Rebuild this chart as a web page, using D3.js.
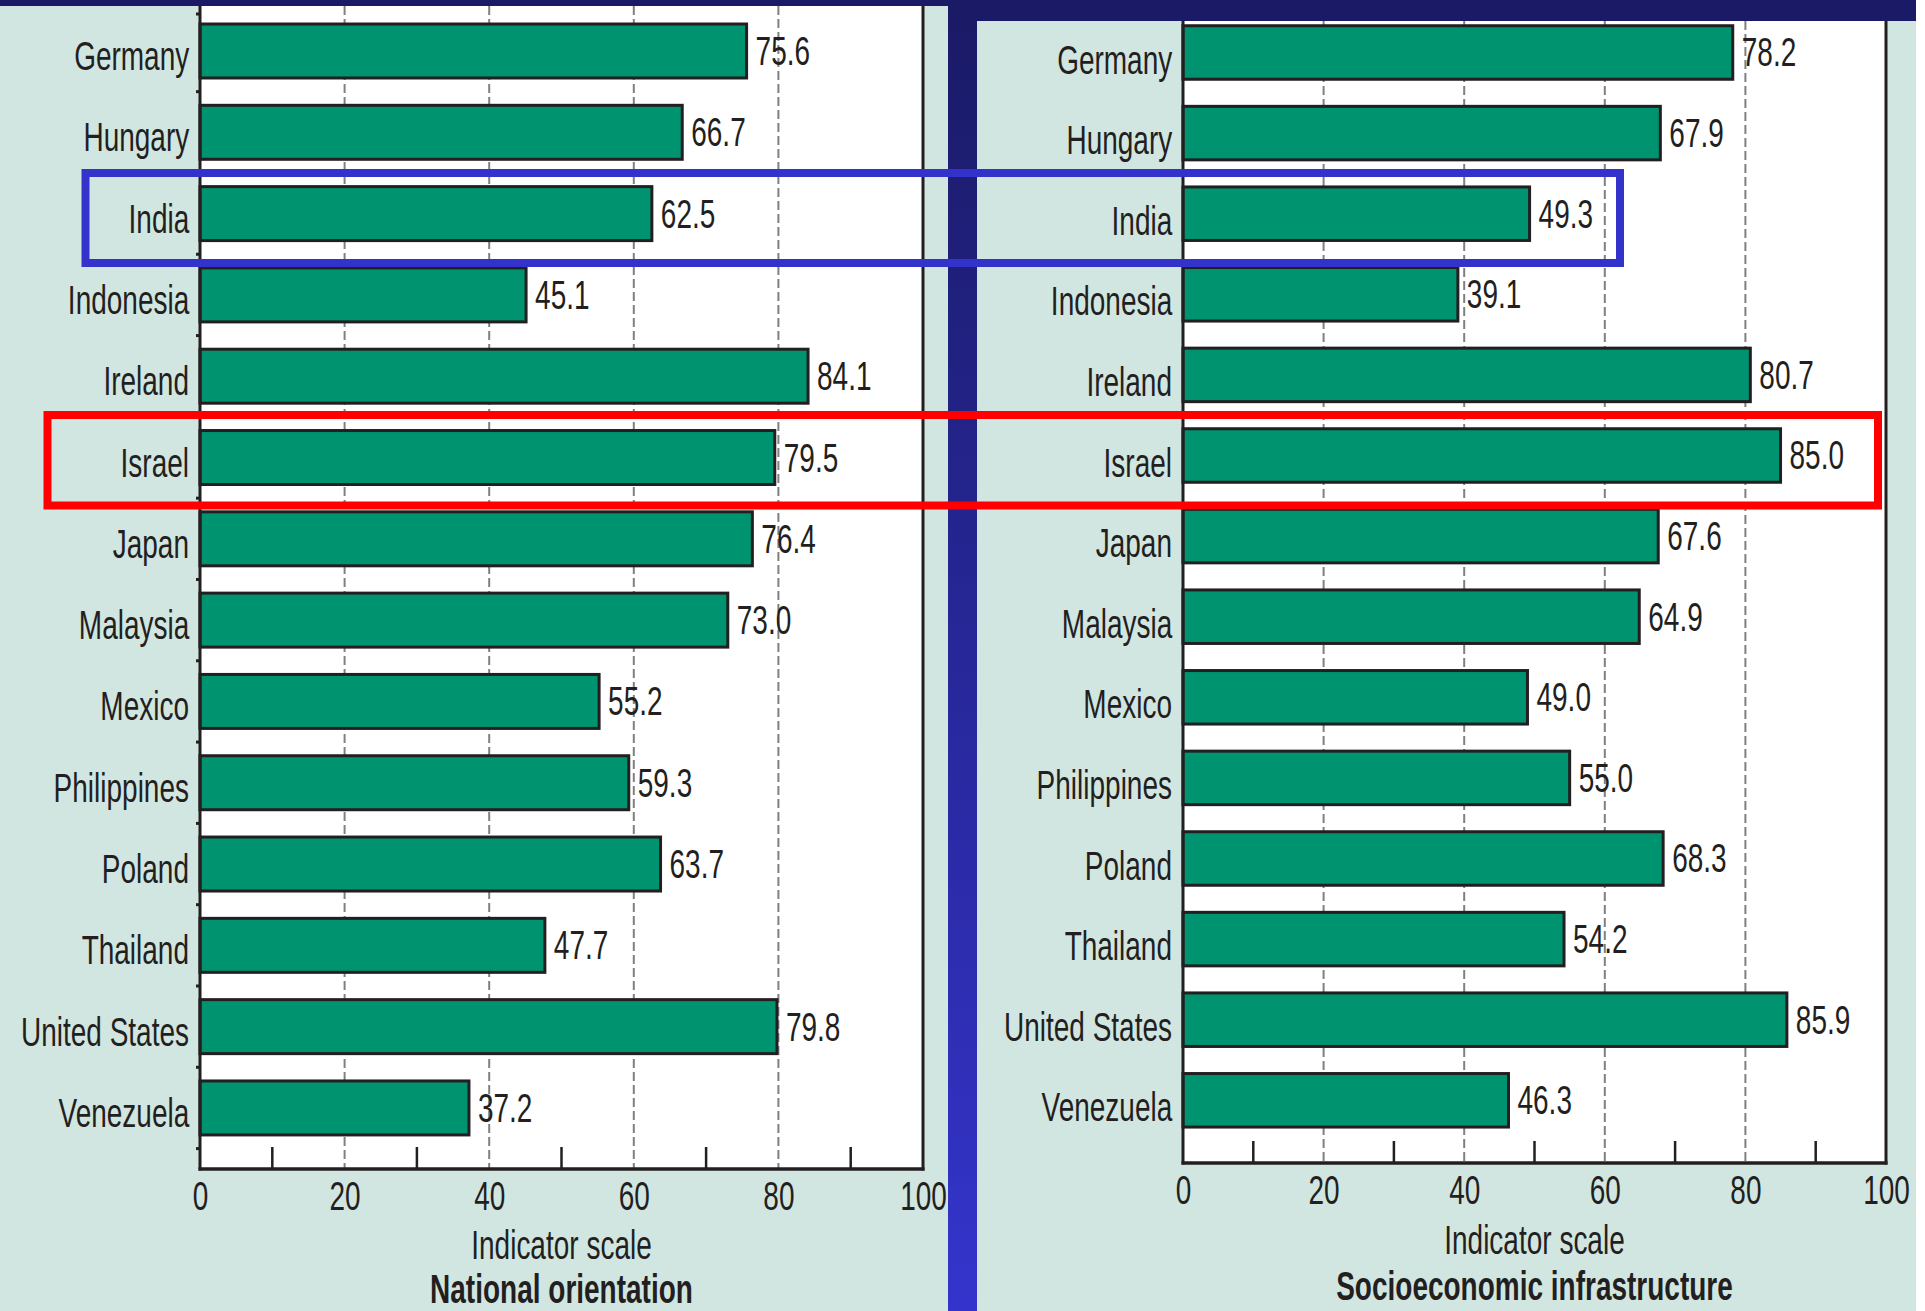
<!DOCTYPE html>
<html>
<head>
<meta charset="utf-8">
<script src="https://cdn.jsdelivr.net/npm/d3@7"></script>
<style>
    body { margin: 0; background: #ffffff; }
    svg { display: block; }
    text {
        font-family: "Liberation Sans", Arial, sans-serif;
        font-size: 40px;
        fill: #231f20;
        transform-box: fill-box;
        transform: scaleX(0.7);
    }
    .anchor-end { transform-origin: right center; }
    .anchor-start { transform-origin: left center; }
    .anchor-middle { transform-origin: center center; }
</style>
</head>
<body>
<script>
// Chart data
const countries = ["Germany", "Hungary", "India", "Indonesia", "Ireland", "Israel", "Japan",
    "Malaysia", "Mexico", "Philippines", "Poland", "Thailand", "United States", "Venezuela"];
const nationalOrientation = [75.6, 66.7, 62.5, 45.1, 84.1, 79.5, 76.4, 73.0, 55.2, 59.3, 63.7, 47.7, 79.8, 37.2];
const socioeconomicInfra = [78.2, 67.9, 49.3, 39.1, 80.7, 85.0, 67.6, 64.9, 49.0, 55.0, 68.3, 54.2, 85.9, 46.3];
const xTicks = [0, 20, 40, 60, 80, 100];
const gridTicks = [20, 40, 60, 80];
const minorTicks = [10, 30, 50, 70, 90];
const axisTitle = "Indicator scale";
const panelTitles = ["National orientation", "Socioeconomic infrastructure"];

const W = 1925, H = 1311;
const bg = "#d2e6e1", navy = "#1a1a66", barColor = "#009370", ink = "#231f20";

const svg = d3.select("body").append("svg")
    .attr("width", W)
    .attr("height", H);

// Divider gradient (navy at the top, brighter blue at the bottom)
const grad = svg.append("defs").append("linearGradient")
    .attr("id", "divider")
    .attr("x1", 0).attr("y1", 0).attr("x2", 0).attr("y2", 1);
grad.append("stop").attr("offset", "0%").attr("stop-color", "#1a1a66");
grad.append("stop").attr("offset", "100%").attr("stop-color", "#3434cc");

// Backgrounds
svg.append("rect").attr("width", W).attr("height", H).attr("fill", bg);
svg.append("rect").attr("x", 1916).attr("width", W - 1916).attr("height", H).attr("fill", "#ffffff");
svg.append("rect").attr("x", 0).attr("y", 0).attr("width", 948).attr("height", 6).attr("fill", navy);
svg.append("rect").attr("x", 948).attr("y", 0).attr("width", 968).attr("height", 21).attr("fill", navy);

function drawPanel(p, values, title) {
    const x = d3.scaleLinear().domain([0, 100]).range([p.x0, p.x1]);
    const y = d3.scaleBand()
        .domain(countries)
        .range(p.band)
        .paddingInner(0.336)
        .paddingOuter(0.168);

    const g = svg.append("g");

    // Plot area
    g.append("rect")
        .attr("x", p.x0).attr("y", p.top)
        .attr("width", p.x1 - p.x0).attr("height", p.axisY - p.top)
        .attr("fill", "#ffffff");

    // Dashed gridlines
    g.selectAll(".grid")
        .data(gridTicks)
        .enter()
        .append("line")
        .attr("x1", d => x(d)).attr("x2", d => x(d))
        .attr("y1", p.top).attr("y2", p.axisY)
        .attr("stroke", "#808080")
        .attr("stroke-width", 2)
        .attr("stroke-dasharray", "9,4");

    // Short inner ticks
    g.selectAll(".minor")
        .data(minorTicks)
        .enter()
        .append("line")
        .attr("x1", d => x(d)).attr("x2", d => x(d))
        .attr("y1", p.axisY - 22).attr("y2", p.axisY)
        .attr("stroke", ink)
        .attr("stroke-width", 2.5);

    // Bars
    g.selectAll(".bar")
        .data(values)
        .enter()
        .append("rect")
        .attr("x", x(0))
        .attr("y", (d, i) => y(countries[i]))
        .attr("width", d => x(d) - x(0))
        .attr("height", y.bandwidth())
        .attr("fill", barColor)
        .attr("stroke", ink)
        .attr("stroke-width", 3);

    // Value labels
    g.selectAll(".val")
        .data(values)
        .enter()
        .append("text")
        .attr("class", "anchor-start")
        .attr("x", d => x(d) + 9)
        .attr("y", (d, i) => y(countries[i]) + y.bandwidth() / 2 + 14)
        .text(d => d.toFixed(1));

    // Category boundary ticks on the left
    if (p.boundaryTicks) {
        const step = y.step();
        g.selectAll(".bt")
            .data(countries)
            .enter()
            .append("line")
            .attr("x1", p.x0 - 4).attr("x2", p.x0)
            .attr("y1", d => y(d) + y.bandwidth() / 2 + step / 2)
            .attr("y2", d => y(d) + y.bandwidth() / 2 + step / 2)
            .attr("stroke", ink)
            .attr("stroke-width", 3);
        g.append("line")
            .attr("x1", p.x0 - 4).attr("x2", p.x0)
            .attr("y1", 14).attr("y2", 14)
            .attr("stroke", ink).attr("stroke-width", 3);
    }

    // Frame lines
    g.append("line")
        .attr("x1", p.x0).attr("x2", p.x0)
        .attr("y1", p.top).attr("y2", p.axisY + 1.5)
        .attr("stroke", ink).attr("stroke-width", 3);
    g.append("line")
        .attr("x1", p.x1).attr("x2", p.x1)
        .attr("y1", p.top).attr("y2", p.axisY + 1.5)
        .attr("stroke", ink).attr("stroke-width", 3);
    g.append("line")
        .attr("x1", p.x0 - 1.5).attr("x2", p.x1 + 1.5)
        .attr("y1", p.axisY).attr("y2", p.axisY)
        .attr("stroke", ink).attr("stroke-width", 3.5);

    // Category labels
    const yAxis = g.append("g")
        .attr("transform", "translate(" + p.x0 + ",0)")
        .call(d3.axisLeft(y).tickSize(0).tickPadding(11));
    yAxis.select(".domain").remove();
    yAxis.selectAll("text")
        .attr("class", "anchor-end")
        .attr("dy", p.labelDy)
        .attr("font-size", null)
        .attr("font-family", null)
        .attr("fill", null);

    // X tick labels
    const xAxis = g.append("g")
        .attr("transform", "translate(0," + p.axisY + ")")
        .call(d3.axisBottom(x).tickValues(xTicks).tickSize(0));
    xAxis.select(".domain").remove();
    xAxis.selectAll("text")
        .attr("class", "anchor-middle")
        .attr("y", p.tickY - p.axisY)
        .attr("dy", 0)
        .attr("font-size", null)
        .attr("font-family", null)
        .attr("fill", null);

    // Axis titles
    g.append("text")
        .attr("class", "anchor-middle")
        .attr("x", (p.x0 + p.x1) / 2)
        .attr("y", p.titleY)
        .attr("text-anchor", "middle")
        .text(axisTitle);
    g.append("text")
        .attr("class", "anchor-middle")
        .attr("x", (p.x0 + p.x1) / 2)
        .attr("y", p.subY)
        .attr("text-anchor", "middle")
        .style("font-weight", "bold")
        .text(title);
}

drawPanel({ x0: 200, x1: 923, top: 6, axisY: 1169, band: [10.35, 1148.6], labelDy: 19,
    tickY: 1210, titleY: 1259, subY: 1303, boundaryTicks: true }, nationalOrientation, panelTitles[0]);
drawPanel({ x0: 1183, x1: 1886, top: 21, axisY: 1163, band: [12.2, 1140.6], labelDy: 21,
    tickY: 1204, titleY: 1254, subY: 1300, boundaryTicks: false }, socioeconomicInfra, panelTitles[1]);

// Divider between the panels
svg.append("rect")
    .attr("x", 948).attr("y", 0)
    .attr("width", 29).attr("height", H)
    .attr("fill", "url(#divider)");

// Highlight boxes
svg.append("rect")
    .attr("x", 85.5).attr("y", 173)
    .attr("width", 1620 - 85.5).attr("height", 263 - 173)
    .attr("fill", "none")
    .attr("stroke", "#3333cc")
    .attr("stroke-width", 8);
svg.append("rect")
    .attr("x", 47.5).attr("y", 415)
    .attr("width", 1878 - 47.5).attr("height", 505.5 - 415)
    .attr("fill", "none")
    .attr("stroke", "#ff0000")
    .attr("stroke-width", 8);
</script>
</body>
</html>
